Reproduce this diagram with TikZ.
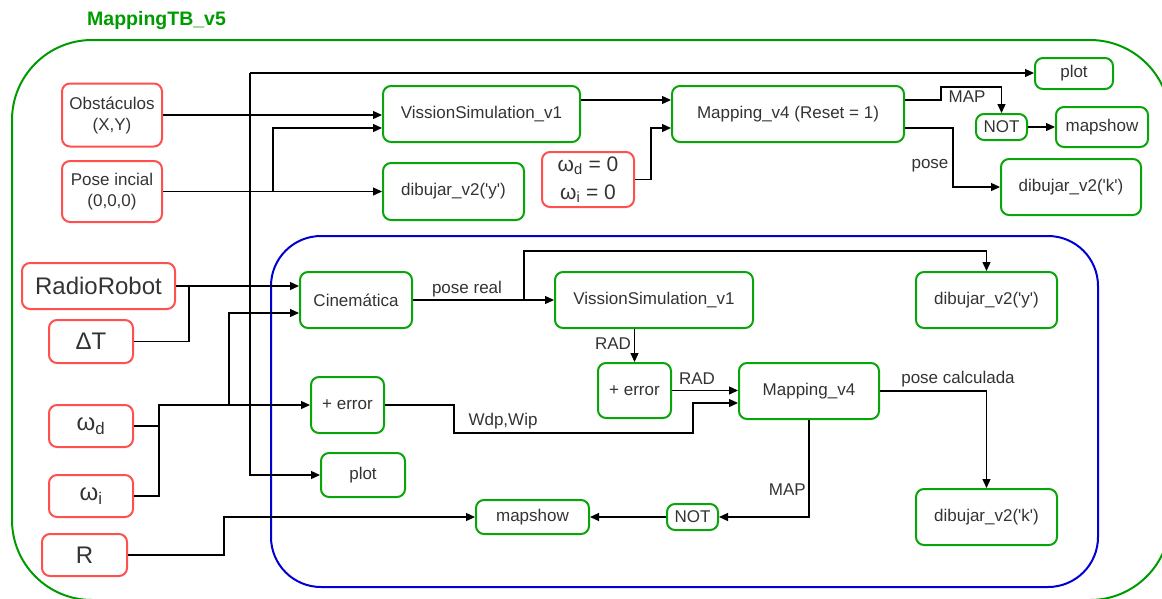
\documentclass[tikz,border=0pt]{standalone}
\usepackage{fontspec}
\setmainfont{Liberation Sans}
\usetikzlibrary{arrows.meta,calc}
\definecolor{boxgreen}{RGB}{10,165,10}
\definecolor{boxred}{RGB}{255,80,80}
\definecolor{frameblue}{RGB}{0,0,210}
\definecolor{framegreen}{RGB}{0,155,0}
\definecolor{txt}{RGB}{51,51,51}
\tikzset{
  blk/.style={draw, rounded corners=8pt, line width=2pt, text=txt, inner sep=0pt,
    align=center, font=\fontsize{17}{21}\selectfont},
  gbox/.style={blk, draw=boxgreen},
  rbox/.style={blk, draw=boxred},
  sz/.style 2 args={minimum width=#1pt, minimum height=#2pt},
  big/.style={font=\fontsize{24}{28}\selectfont},
  wire/.style={line width=1.3pt, draw=black},
  arr/.style={wire, -{Triangle[length=9pt,width=8pt]}},
  lbl/.style={text=txt, font=\fontsize{17}{20}\selectfont, inner sep=0pt},
}
\begin{document}
\begin{tikzpicture}[x=1pt,y=-1pt]
\useasboundingbox (0,0) rectangle (1162,598);

% frames
\node[text=framegreen, font=\fontsize{19.5}{22}\selectfont\bfseries, inner sep=0pt, anchor=west] (title) at (87,20) {MappingTB\_v5};
\draw[draw=framegreen, line width=2pt, rounded corners=80pt] (12,40) rectangle (1170,600);
\draw[draw=frameblue, line width=2pt, rounded corners=50pt] (271,236) rectangle (1098,587);

% ---------- upper part ----------
\node[rbox, sz={100}{63}] (obst) at (112,115) {Obstáculos\\(X,Y)};
\node[rbox, sz={100}{61}] (pose0) at (112,191.5) {Pose incial\\(0,0,0)};
\node[gbox, sz={197}{56}] (vsT) at (481.5,114) {VissionSimulation\_v1};
\node[gbox, sz={141}{57}] (dibT) at (453.5,191.5) {dibujar\_v2(\textquotesingle y\textquotesingle)};
\node[rbox, sz={92}{55}, font=\fontsize{21}{28}\selectfont] (omega0) at (588,179.5) {ω\textsubscript{d} = 0\\ω\textsubscript{i} = 0};
\node[gbox, sz={232}{56}] (mapT) at (788,114) {Mapping\_v4 (Reset = 1)};
\node[gbox, sz={78}{31}] (plotT) at (1074,73.5) {plot};
\node[gbox, sz={51}{26}] (notT) at (1001.5,127) {NOT};
\node[gbox, sz={92}{40}] (mapshowT) at (1102,127) {mapshow};
\node[gbox, sz={140}{56}] (dibkT) at (1071,187) {dibujar\_v2(\textquotesingle k\textquotesingle)};

% ---------- lower part ----------
\node[rbox, big, sz={153}{46}] (radio) at (98.5,286) {RadioRobot};
\node[rbox, big, sz={84}{43}] (dT) at (91,341.5) {ΔT};
\node[rbox, big, sz={84}{42}] (wd) at (91,426) {ω\textsubscript{d}};
\node[rbox, big, sz={84}{42}] (wi) at (91,496) {ω\textsubscript{i}};
\node[rbox, big, sz={85}{42}] (R) at (84.5,555) {R};
\node[gbox, sz={112}{56}] (cine) at (356,300) {Cinemática};
\node[gbox, sz={73}{56}] (errL) at (347.5,405) {+ error};
\node[gbox, sz={84}{44}] (plotL) at (363,475) {plot};
\node[gbox, sz={198}{56}] (vsL) at (654,300) {VissionSimulation\_v1};
\node[gbox, sz={73}{55}] (errM) at (634.5,390.5) {+ error};
\node[gbox, sz={140}{56}] (mapL) at (809,391) {Mapping\_v4};
\node[gbox, sz={141}{56}] (dibyL) at (986.5,300) {dibujar\_v2(\textquotesingle y\textquotesingle)};
\node[gbox, sz={141}{56}] (dibkL) at (986.5,517) {dibujar\_v2(\textquotesingle k\textquotesingle)};
\node[gbox, sz={51}{26}] (notL) at (692.5,517) {NOT};
\node[gbox, sz={113}{34}] (mapshowL) at (532.5,517) {mapshow};

% ---------- connectors, upper part ----------
\coordinate (pj) at (250,73);
\draw[arr] (pj) -- (plotT.west |- pj);
\draw[arr] (pj) |- (plotL.west);
\draw[arr] (obst.east) -- (vsT.west |- obst.east);
\draw[arr] (pose0.east) -- (dibT.west |- pose0.east);
\coordinate (pb) at (273,191.5);
\draw[arr] (pb) |- ($(vsT.west)+(0,14)$);
\draw[arr] ($(vsT.east)+(0,-14)$) -- ($(mapT.west)+(0,-14)$);
\draw[arr] (omega0.east) -- ++(16,0) |- ($(mapT.west)+(0,14)$);
\draw[arr] ($(mapT.east)+(0,-14)$) -- ++(36,0) -- ++(0,-13) -| (notT.north);
\node[lbl] (mapLblT) at (967,97) {MAP};
\draw[arr] (notT.east) -- (mapshowT.west |- notT.east);
\draw[arr] ($(mapT.east)+(0,14)$) -- ++(48,0) |- (dibkT.west);
\node[lbl] (poseLbl) at (930,166) {pose};

% ---------- connectors, lower part ----------
\draw[arr] (radio.east) -- ($(cine.west)+(0,-14)$);
\draw[wire] (dT.east) -| ($(radio.east)+(13,0)$);
\coordinate (wj) at (159,405);
\draw[wire] (wd.east) -- (wd.east -| wj);
\draw[arr] (wi.east) -| (wj) -- (errL.west);
\coordinate (cj) at (229,405);
\draw[arr] (cj) |- ($(cine.west)+(0,13)$);
\draw[arr] (R.east) -- ++(96,0) |- (mapshowL.west);

\draw[arr] (cine.east) -- (vsL.west);
\node[lbl] (poseReal) at (467,289) {pose real};
\coordinate (pr) at (524,300);
\draw[arr] (pr) -- ++(0,-49) -| (dibyL.north);
\draw[arr] (errM.north |- vsL.south) -- (errM.north);
\node[lbl] (radA) at (613,344) {RAD};
\draw[arr] (errM.east) -- (mapL.west |- errM.east);
\node[lbl] (radB) at (697,379) {RAD};
\draw[arr] (errL.east) -- ++(69,0) |- (693,433) |- ($(mapL.west)+(0,12)$);
\node[lbl] (wdp) at (503,421) {Wdp,Wip};
\draw[arr] (mapL.east) -| (dibkL.north);
\node[lbl] (poseCalc) at (958,379) {pose calculada};
\draw[arr] (mapL.south) |- (notL.east);
\node[lbl, anchor=east] (mapLblL) at (806,490) {MAP};
\draw[arr] (notL.west) -- (mapshowL.east);
\end{tikzpicture}
\end{document}
